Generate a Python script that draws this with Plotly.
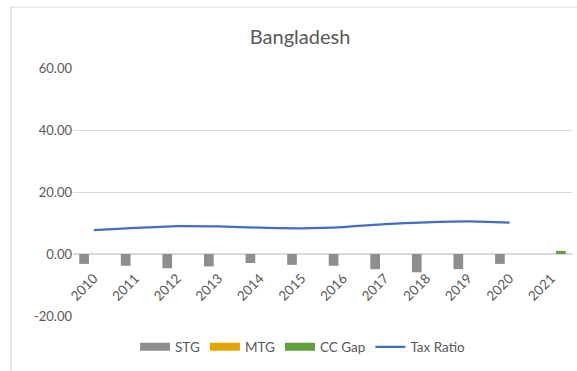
import plotly.graph_objects as go

# Fiscal data for Bangladesh, 2010-2021
years = ["2010", "2011", "2012", "2013", "2014", "2015",
         "2016", "2017", "2018", "2019", "2020", "2021"]
stg = [-3.2, -3.8, -4.6, -4.0, -2.9, -3.5, -3.8, -4.9, -5.9, -4.9, -3.2, None]
mtg = [None, None, None, None, None, None, None, None, None, None, None, None]
cc_gap = [None, None, None, None, None, None, None, None, None, None, None, 1.0]
tax_ratio = [7.7, 8.4, 9.0, 8.9, 8.5, 8.3, 8.7, 9.6, 10.2, 10.5, 10.1, None]

y_ticks = [-20, 0, 20, 40, 60]
y_range = [-20, 60]

C_STG = "#8E8E8E"
C_MTG = "#E2A500"
C_CC = "#62A03F"
C_TAX = "#3F6EC2"
TXT = "#595959"
GRID = "#D9D9D9"
FONT = "Lato, 'Open Sans', sans-serif"

fig = go.Figure()

bar_series = [("STG", stg, C_STG), ("MTG", mtg, C_MTG), ("CC Gap", cc_gap, C_CC)]
for name, vals, col in bar_series:
    fig.add_trace(go.Bar(x=years, y=vals, name=name, marker_color=col,
                         marker_line_width=0, legendgroup=name, showlegend=False))
    # wide rectangular legend key
    fig.add_trace(go.Scatter(x=[None], y=[None], mode="lines", name=name,
                             legendgroup=name,
                             line=dict(color=col, width=8)))

fig.add_trace(go.Scatter(x=years, y=tax_ratio, mode="lines", name="Tax Ratio",
                         line=dict(color=C_TAX, width=2.25, shape="spline",
                                   smoothing=0.6)))

# category axis sits on the zero line
zero_pos = (0 - y_range[0]) / (y_range[1] - y_range[0])

fig.update_layout(
    width=577, height=371,
    margin=dict(l=73, r=5, t=68, b=55),
    paper_bgcolor="white", plot_bgcolor="white",
    barmode="group", bargap=0.3, bargroupgap=0,
    font=dict(family=FONT, color=TXT, size=13),
    title=dict(text="Bangladesh", x=0.52, xanchor="center", y=0.9, yanchor="middle",
               font=dict(family=FONT, size=20, color=TXT)),
    showlegend=True,
    legend=dict(orientation="h", x=0.46, xanchor="center", y=-0.125, yanchor="middle",
                font=dict(family=FONT, size=13.5, color=TXT),
                itemwidth=30, traceorder="normal", bgcolor="rgba(0,0,0,0)"),
    shapes=[dict(type="rect", xref="paper", yref="paper",
                 x0=-0.1242, x1=1.02, y0=-0.4, y1=1.246,
                 line=dict(color=GRID, width=1.2), layer="below")],
)

fig.update_xaxes(type="category", tickangle=-45, showgrid=False, showline=False,
                 ticks="", tickfont=dict(family=FONT, size=13.5, color=TXT),
                 ticklabelstandoff=13,
                 anchor="free", position=zero_pos)
fig.update_yaxes(range=y_range, tickvals=y_ticks,
                 ticktext=[f"{v:.2f}" for v in y_ticks],
                 showgrid=True, gridcolor=GRID, gridwidth=1,
                 zeroline=True, zerolinecolor=GRID, zerolinewidth=1.5,
                 showline=False, ticks="", ticklen=0,
                 tickfont=dict(family=FONT, size=13, color=TXT))

fig.write_html("out.html")
